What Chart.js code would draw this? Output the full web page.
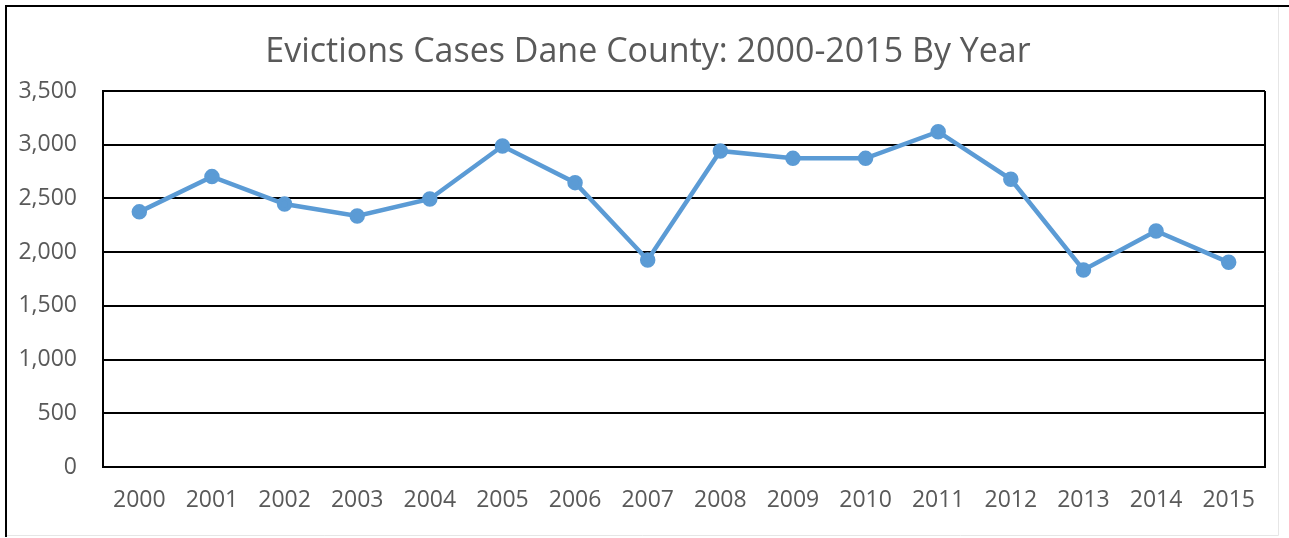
<!DOCTYPE html>
<html>
<head>
<meta charset="utf-8">
<script src="https://cdn.jsdelivr.net/npm/chart.js@4.4.1/dist/chart.umd.min.js"></script>
<style>
  html, body { margin: 0; padding: 0; background: #fff; }
  #wrap { width: 1289px; height: 538px; position: relative; }
</style>
</head>
<body>
<div id="wrap"><canvas id="evictionsChart"></canvas></div>
<script>
// Eviction cases by year
const years = ['2000', '2001', '2002', '2003', '2004', '2005', '2006', '2007',
               '2008', '2009', '2010', '2011', '2012', '2013', '2014', '2015'];
const evictions = [2375, 2703, 2448, 2337, 2495, 2988, 2647, 1927,
                   2942, 2873, 2873, 3121, 2678, 1834, 2197, 1905];
const yTicks = [0, 500, 1000, 1500, 2000, 2500, 3000, 3500];

const chartTitle = 'Evictions Cases Dane County: 2000-2015 By Year';
const textColor = '#595959';
const fontFamily = '"Open Sans", sans-serif';

// outer frame around the whole picture, plus the title
const framePlugin = {
    id: 'frame',
    beforeDraw(chart) {
        const ctx = chart.ctx;
        ctx.save();
        ctx.strokeStyle = '#000';
        ctx.lineWidth = 2;
        ctx.beginPath();
        ctx.moveTo(6, 537);
        ctx.lineTo(6, 6);
        ctx.lineTo(1289, 6);
        ctx.stroke();
        ctx.strokeStyle = '#e6e6e6';
        ctx.lineWidth = 1;
        ctx.beginPath();
        ctx.moveTo(7, 535.5);
        ctx.lineTo(1278.5, 535.5);
        ctx.lineTo(1278.5, 7);
        ctx.stroke();

        // title, centred a little right of the plot centre like the original
        ctx.fillStyle = textColor;
        ctx.font = '34px ' + fontFamily;
        ctx.textAlign = 'center';
        ctx.textBaseline = 'middle';
        ctx.fillText(chartTitle, 648, 52);
        ctx.restore();
    }
};

// the plot area has a closed black border on the right as well
const rightBorderPlugin = {
    id: 'rightBorder',
    beforeDatasetsDraw(chart) {
        const a = chart.chartArea;
        const c = chart.ctx;
        c.save();
        c.strokeStyle = '#000';
        c.lineWidth = 2;
        c.beginPath();
        c.moveTo(a.right, a.top);
        c.lineTo(a.right, a.bottom);
        c.stroke();
        c.restore();
    }
};

document.addEventListener('DOMContentLoaded', function() {
    const ctx = document.getElementById('evictionsChart');
    new Chart(ctx, {
        type: 'line',
        data: {
            labels: years,
            datasets: [{
                data: evictions,
                borderColor: '#5B9BD5',
                backgroundColor: '#5B9BD5',
                borderWidth: 4.5,
                pointRadius: 5.5,
                pointHoverRadius: 5.5,
                tension: 0
            }]
        },
        options: {
            responsive: true,
            maintainAspectRatio: false,
            animation: false,
            layout: { padding: { left: 0, right: 24, top: 91, bottom: 0 } },
            plugins: {
                legend: { display: false },
                tooltip: { enabled: false },
                title: { display: false }
            },
            scales: {
                x: {
                    offset: true,
                    grid: { display: false, drawTicks: false },
                    border: { display: true, color: '#000', width: 2 },
                    ticks: {
                        color: textColor,
                        font: { family: fontFamily, size: 23 },
                        padding: 20,
                        maxRotation: 0
                    },
                    afterFit(scale) { scale.height = 71; }
                },
                y: {
                    min: 0,
                    max: 3500,
                    afterBuildTicks(scale) {
                        scale.ticks = yTicks.map(v => ({ value: v }));
                    },
                    grid: { color: '#000', lineWidth: 2, drawTicks: false },
                    border: { display: true, color: '#000', width: 2 },
                    ticks: {
                        color: textColor,
                        font: { family: fontFamily, size: 23 },
                        padding: 26,
                        callback: v => v.toLocaleString('en-US')
                    },
                    afterFit(scale) { scale.width = 103; }
                }
            }
        },
        plugins: [framePlugin, rightBorderPlugin]
    });
});
</script>
</body>
</html>
